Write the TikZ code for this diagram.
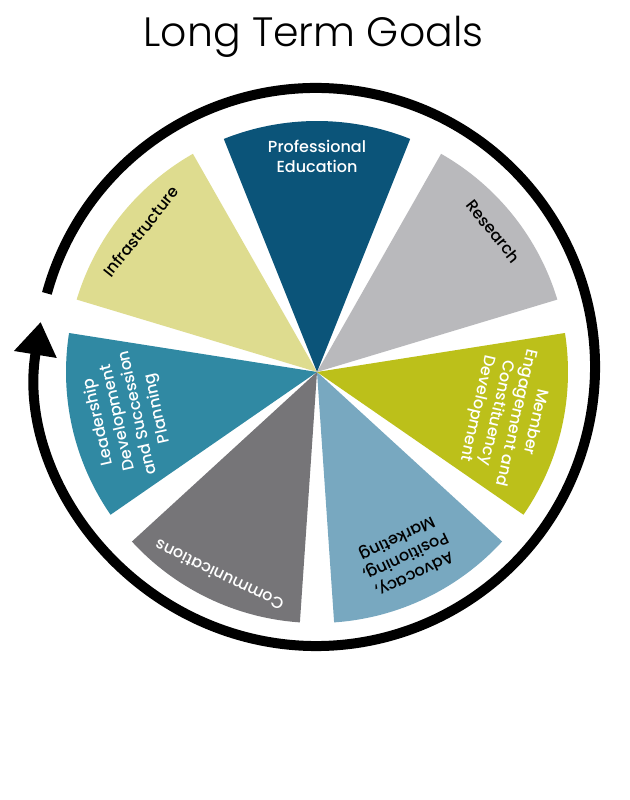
\documentclass[tikz,border=0pt]{standalone}
\usepackage{fontspec}
\setmainfont{Poppins}
\newfontfamily\titlefont{Poppins Light}
\newfontfamily\labfont{Poppins Medium}
\usetikzlibrary{arrows.meta}
\definecolor{profed}{RGB}{11,84,121}
\definecolor{research}{RGB}{185,185,188}
\definecolor{member}{RGB}{188,192,26}
\definecolor{advocacy}{RGB}{120,168,192}
\definecolor{comms}{RGB}{118,117,120}
\definecolor{leader}{RGB}{48,137,163}
\definecolor{infra}{RGB}{222,220,143}
\begin{document}
\begin{tikzpicture}[x=1pt,y=1pt,
  lab/.style={align=center, font=\labfont\fontsize{16}{20}\selectfont, anchor=north, inner sep=0pt}]
\useasboundingbox (0,0) rectangle (629,800);
\fill[white] (0,0) rectangle (629,800);
\coordinate (O) at (317,428);
\coordinate (R) at (316,433);
\node[font=\titlefont\fontsize{41}{41}\selectfont, anchor=base] (title) at (313.5,753) {Long Term Goals};
\foreach \a/\c in {90/profed, 141.43/infra, 192.86/leader, 244.29/comms, 295.71/advocacy, 347.14/member, 38.57/research}{
  \fill[\c] (O) -- ++(\a-21.8:251) arc[start angle=\a-21.8, delta angle=43.6, radius=251] -- cycle;
}
\node[lab, text=white, rotate=0] (pe) at ([shift={(90:232)}]O) {Professional\\Education};
\node[lab, text=black, rotate=51.43] (inf) at ([shift={(141.43:232)}]O) {Infrastructure};
\node[lab, text=white, rotate=102.86] (ld) at ([shift={(192.86:232)}]O) {Leadership\\Development\\and Succession\\Planning};
\node[lab, text=white, rotate=154.29] (co) at ([shift={(244.29:232)}]O) {Communications};
\node[lab, text=black, rotate=205.71] (ad) at ([shift={(295.71:232)}]O) {Advocacy,\\Positioning,\\Marketing};
\node[lab, text=white, rotate=257.14] (me) at ([shift={(347.14:232)}]O) {Member\\Engagement and\\Constituency\\Development};
\node[lab, text=black, rotate=-51.43] (re) at ([shift={(38.57:232)}]O) {Research};
\coordinate (arcstart) at ([shift={(164.7:279)}]R);
\draw[line width=10pt, -{Triangle[length=33pt,width=41pt]}] (arcstart) arc[start angle=164.7, end angle=-189.3, radius=279];
\end{tikzpicture}
\end{document}
